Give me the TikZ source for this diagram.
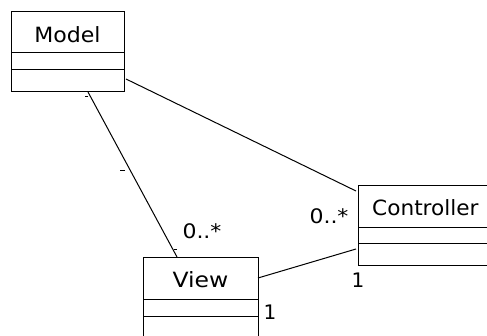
\documentclass[tikz,border=0pt]{standalone}
\usepackage{fontspec}
\setmainfont{DejaVu Sans}
\begin{document}
\begin{tikzpicture}[x=1pt,y=-1pt,
  comp/.style={draw=black, line width=1.1pt, rectangle, inner sep=0pt, anchor=north west},
  cname/.style={font=\fontsize{21}{21}\selectfont, inner sep=0pt},
  mult/.style={font=\fontsize{20}{20}\selectfont, inner sep=0pt},
  assoc/.style={draw=black, line width=1pt},
  tick/.style={draw=black, line width=1pt}]
\useasboundingbox (0,0) rectangle (487,336);
\begin{scope}
\clip (0,0) rectangle (487,336);
% Model
\node[comp, minimum width=113pt, minimum height=41pt] (model) at (11,11) {};
\node[comp, minimum width=113pt, minimum height=17pt] (modelattr) at (11,52) {};
\node[comp, minimum width=113pt, minimum height=22pt] (modelops) at (11,69) {};
\node[cname] (modelname) at (67.5,35) {\scalebox{1.05}[1]{Model}};
% View
\node[comp, minimum width=115pt, minimum height=42pt] (view) at (143,257) {};
\node[comp, minimum width=115pt, minimum height=17pt] (viewattr) at (143,299) {};
\node[comp, minimum width=115pt, minimum height=40pt] (viewops) at (143,316) {};
\node[cname] (viewname) at (200.5,280) {\scalebox{1.12}[1]{View}};
% Controller
\node[comp, minimum width=150pt, minimum height=42pt] (ctrl) at (358,185) {};
\node[comp, minimum width=150pt, minimum height=16pt] (ctrlattr) at (358,227) {};
\node[comp, minimum width=150pt, minimum height=22pt] (ctrlops) at (358,243) {};
\node[cname, anchor=west] (ctrlname) at (372,208) {\scalebox{1.03}[1]{Controller}};
\end{scope}
% connection points
\coordinate (mv1) at (88,92);
\coordinate (mv2) at (177,257);
\coordinate (mc1) at (126,79);
\coordinate (mc2) at (356,191);
\coordinate (vc1) at (258,278);
\coordinate (vc2) at (356,249);
\draw[assoc] (mv1) -- (mv2);
\draw[assoc] (mc1) -- (mc2);
\draw[assoc] (vc1) -- (vc2);
% small ticks
\coordinate (t1) at (125,171);
\draw[tick] (t1) -- ++(-5,0);
\coordinate (t2) at (88,97);
\draw[tick] (t2) -- ++(-3,0);
\coordinate (t3) at (177,250);
\draw[tick] (t3) -- ++(-3,0);
% multiplicities
\node[mult] (m1) at (202,231) {\scalebox{1.1}[1]{0..*}};
\node[mult] (m2) at (329,216) {\scalebox{1.1}[1]{0..*}};
\node[mult] (m3) at (270,312) {1};
\node[mult] (m4) at (358,280) {1};
\end{tikzpicture}
\end{document}
